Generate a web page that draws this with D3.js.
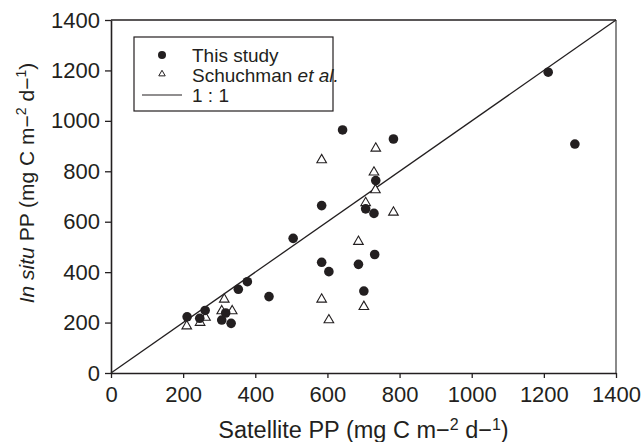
<!DOCTYPE html>
<html>
<head>
<meta charset="utf-8">
<script src="https://cdn.jsdelivr.net/npm/d3@7"></script>
<style>
  body { margin: 0; background: #fff; }
  svg { display: block; font-family: 'Liberation Sans', Arial, sans-serif; }
</style>
</head>
<body>
<div id="chart"></div>
<script>
// This study
const studyX = [211, 246, 261, 307, 318, 333, 353, 378, 438, 505, 584, 584, 604, 642, 686, 701, 706, 729, 731, 734, 783, 1212, 1286];
const studyY = [223, 217, 248, 210, 238, 197, 332, 362, 303, 534, 664, 439, 402, 964, 431, 325, 651, 633, 470, 763, 928, 1193, 908];

// Schuchman et al.
const schX = [210, 247, 262, 307, 314, 336, 584, 584, 604, 686, 701, 706, 729, 733, 734, 783];
const schY = [186, 200, 220, 246, 292, 246, 845, 292, 210, 521, 263, 675, 796, 726, 891, 637];

const ticks = [0, 200, 400, 600, 800, 1000, 1200, 1400];
const legendLabels = ['This study', 'Schuchman', '1 : 1'];

const W = 641;
const H = 442;
const margin = { t: 20, r: 25, b: 69, l: 111 };
const iw = W - margin.l - margin.r;
const ih = H - margin.t - margin.b;
const ink = '#231f20';

const x = d3.scaleLinear().domain([0, 1400]).range([0, iw]);
const y = d3.scaleLinear().domain([0, 1400]).range([ih, 0]);

const svg = d3.select('#chart').append('svg')
  .attr('width', W)
  .attr('height', H);

const g = svg.append('g')
  .attr('transform', `translate(${margin.l}, ${margin.t})`);

// frame: top dark, right grey
g.append('line')
  .attr('x1', 0).attr('x2', iw).attr('y1', 0).attr('y2', 0)
  .style('stroke', ink).style('stroke-width', 1.3);
g.append('line')
  .attr('x1', iw).attr('x2', iw).attr('y1', 0).attr('y2', ih)
  .style('stroke', '#8a8a8a').style('stroke-width', 2);

// axes
const fmt = d3.format('d');
const xAxis = d3.axisBottom(x).tickValues(ticks).tickFormat(fmt)
  .tickSize(5).tickPadding(8).tickSizeOuter(0);
const yAxis = d3.axisLeft(y).tickValues(ticks).tickFormat(fmt)
  .tickSize(6).tickPadding(5).tickSizeOuter(0);

const gx = g.append('g')
  .attr('transform', `translate(0, ${ih})`)
  .call(xAxis);
const gy = g.append('g').call(yAxis);

[gx, gy].forEach((ax) => {
  ax.select('.domain').style('stroke', ink).style('stroke-width', 1.6);
  ax.selectAll('.tick line').style('stroke', ink).style('stroke-width', 1.3);
  ax.selectAll('.tick text')
    .style('font-size', '22px')
    .style('fill', ink)
    .style('font-family', "'Liberation Sans', Arial, sans-serif");
});

// 1:1 line
g.append('line')
  .attr('x1', x(0)).attr('y1', y(0))
  .attr('x2', x(1400)).attr('y2', y(1400))
  .style('stroke', ink)
  .style('stroke-width', 1.3);

// points
const studyData = studyX.map((v, i) => ({ x: v, y: studyY[i] }));
const schData = schX.map((v, i) => ({ x: v, y: schY[i] }));

const tri = d3.symbol().type(d3.symbolTriangle).size(40);

g.selectAll('.tri')
  .data(schData)
  .enter().append('path')
  .attr('class', 'tri')
  .attr('d', tri)
  .attr('transform', d => `translate(${x(d.x)}, ${y(d.y)})`)
  .style('fill', '#fff')
  .style('stroke', ink)
  .style('stroke-width', 1.1);

g.selectAll('.dot')
  .data(studyData)
  .enter().append('circle')
  .attr('class', 'dot')
  .attr('cx', d => x(d.x))
  .attr('cy', d => y(d.y))
  .attr('r', 4.8)
  .style('fill', ink);

// legend
const lg = svg.append('g').attr('transform', 'translate(134, 37)');

lg.append('rect')
  .attr('width', 199)
  .attr('height', 74)
  .style('fill', '#fff')
  .style('stroke', ink)
  .style('stroke-width', 1.2);

lg.append('circle')
  .attr('cx', 28).attr('cy', 18).attr('r', 4)
  .style('fill', ink);

lg.append('path')
  .attr('d', d3.symbol().type(d3.symbolTriangle).size(18))
  .attr('transform', 'translate(28, 37)')
  .style('fill', '#fff')
  .style('stroke', ink)
  .style('stroke-width', 1);

lg.append('line')
  .attr('x1', 8).attr('x2', 48).attr('y1', 58).attr('y2', 58)
  .style('stroke', ink).style('stroke-width', 1.2);

const legText = lg.selectAll('.ltext')
  .data(legendLabels)
  .enter().append('text')
  .attr('class', 'ltext')
  .attr('x', 58)
  .attr('y', (d, i) => 25 + i * 20)
  .style('font-size', '19px')
  .style('fill', ink)
  .text(d => d);

legText.filter((d, i) => i === 1)
  .append('tspan')
  .style('font-style', 'italic')
  .text(' et al.');

// axis titles
const xt = svg.append('text')
  .attr('x', margin.l + iw / 2)
  .attr('y', 438)
  .attr('text-anchor', 'middle')
  .style('font-size', '23.5px')
  .style('fill', ink);
xt.append('tspan').text('Satellite PP (mg C m\u2212');
xt.append('tspan').attr('dy', -8).style('font-size', '16px').text('2');
xt.append('tspan').attr('dy', 8).text(' d\u2212');
xt.append('tspan').attr('dy', -8).style('font-size', '16px').text('1');
xt.append('tspan').attr('dy', 8).text(')');

const yt = svg.append('text')
  .attr('transform', 'translate(34, 183) rotate(-90)')
  .attr('text-anchor', 'middle')
  .style('font-size', '21px')
  .style('fill', ink);
yt.append('tspan').style('font-style', 'italic').text('In situ');
yt.append('tspan').text(' PP (mg C m\u2212');
yt.append('tspan').attr('dy', -8).style('font-size', '14px').text('2');
yt.append('tspan').attr('dy', 8).text(' d\u2212');
yt.append('tspan').attr('dy', -8).style('font-size', '14px').text('1');
yt.append('tspan').attr('dy', 8).text(')');
</script>
</body>
</html>
